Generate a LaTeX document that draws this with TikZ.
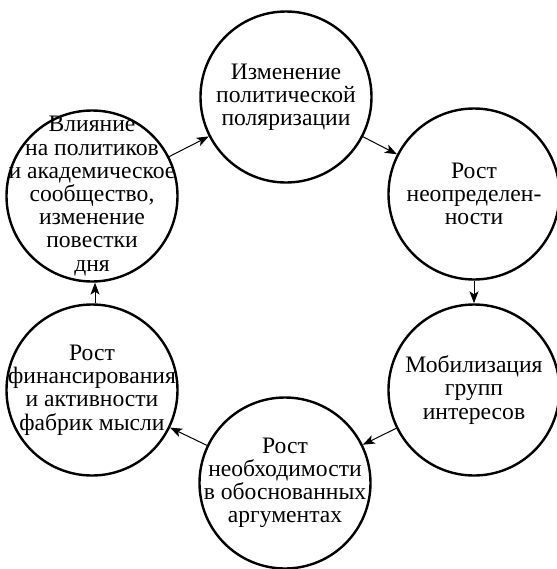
\documentclass[tikz,border=0pt]{standalone}
\usepackage{fontspec}
\setmainfont{Liberation Serif}
\usetikzlibrary{arrows.meta}
\tikzset{
  phase/.style={circle, draw, line width=1.2pt, minimum size=85.5pt, inner sep=0pt},
  phasetext/.style={align=center, inner sep=0pt, font=\fontsize{11.8}{11.6}\selectfont},
  flow/.style={line width=0.5pt, -{Stealth[length=6pt,width=4.5pt,inset=1.5pt]}}
}
\begin{document}
\begin{tikzpicture}[x=0.5pt,y=-0.5pt]
  \useasboundingbox (0,0) rectangle (557,569);
  \coordinate (P) at (286,97);
  \coordinate (U) at (474,194);
  \coordinate (M) at (474,390);
  \coordinate (A) at (285,483);
  \coordinate (F) at (92,390);
  \coordinate (I) at (92,196);

  \node[phase, label={[phasetext]center:{Изменение\\политической\\поляризации}}] (polar) at (P) {};
  \node[phase, label={[phasetext]center:{Рост\\неопределен-\\ности}}] (uncert) at (U) {};
  \node[phase, label={[phasetext]center:{Мобилизация\\групп\\интересов}}] (mobil) at (M) {};
  \node[phase, label={[phasetext]center:{Рост\\необходимости\\в обоснованных\\аргументах}}] (argum) at (A) {};
  \node[phase, label={[phasetext]center:{Рост\\финансирования\\и активности\\фабрик мысли}}] (funds) at (F) {};
  \node[phase, label={[phasetext]center:{Влияние\\на политиков\\и академическое\\сообщество,\\изменение\\повестки\\дня}}] (infl) at (I) {};

  \foreach \from/\to in {infl/polar, polar/uncert, uncert/mobil, mobil/argum, argum/funds}
  {
    \draw[flow] (\from) -- (\to);
  }
  \draw[flow] (funds.88) -- (infl.272);

\end{tikzpicture}
\end{document}
